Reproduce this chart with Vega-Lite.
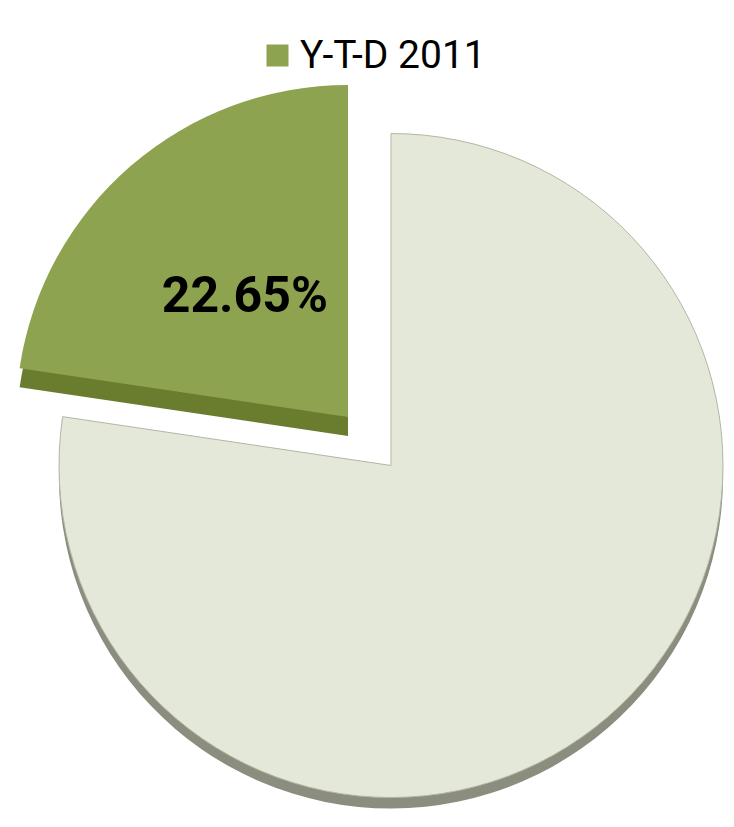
{
  "$schema": "https://vega.github.io/schema/vega-lite/v6.json",
  "width": 734,
  "height": 827,
  "autosize": {"type": "none"},
  "padding": 0,
  "background": "white",
  "config": {"view": {"stroke": null}},
  "data": {
    "values": [
      {"category": "Other", "value": 77.35, "order": 1, "label": ""},
      {"category": "Y-T-D 2011", "value": 22.65, "order": 2, "label": "22.65%"}
    ]
  },
  "transform": [
    {"stack": "value", "groupby": [], "sort": [{"field": "order", "order": "ascending"}], "as": ["v0", "v1"]}
  ],
  "layer": [
    {
      "transform": [{"filter": "datum.category === 'Other'"}],
      "mark": {"type": "arc", "radius": 332, "xOffset": 24, "yOffset": 63, "fill": "#8b8e7e"},
      "encoding": {
        "theta": {"field": "v0", "type": "quantitative", "scale": {"domain": [0, 100]}},
        "theta2": {"field": "v1"}
      }
    },
    {
      "transform": [{"filter": "datum.category === 'Other'"}],
      "mark": {"type": "arc", "radius": 332, "xOffset": 24, "yOffset": 52, "fill": "#e3e8d8", "stroke": "#b3b6a6", "strokeWidth": 1},
      "encoding": {
        "theta": {"field": "v0", "type": "quantitative", "scale": {"domain": [0, 100]}},
        "theta2": {"field": "v1"}
      }
    },
    {
      "transform": [{"filter": "datum.category === 'Y-T-D 2011'"}],
      "mark": {"type": "arc", "radius": 332, "xOffset": -19, "yOffset": 22.5, "fill": "#6a7c2e"},
      "encoding": {
        "theta": {"field": "v0", "type": "quantitative", "scale": {"domain": [0, 100]}},
        "theta2": {"field": "v1"}
      }
    },
    {
      "transform": [{"filter": "datum.category === 'Y-T-D 2011'"}],
      "mark": {"type": "arc", "radius": 332, "xOffset": -19, "yOffset": 3.5},
      "encoding": {
        "theta": {"field": "v0", "type": "quantitative", "scale": {"domain": [0, 100]}},
        "theta2": {"field": "v1"},
        "color": {
          "field": "category",
          "type": "nominal",
          "scale": {"domain": ["Y-T-D 2011"], "range": ["#8ea350"]},
          "legend": {
            "orient": "none",
            "legendX": 258,
            "legendY": 36,
            "title": null,
            "padding": 0,
            "symbolType": "square",
            "symbolSize": 484,
            "symbolStrokeWidth": 0,
            "symbolOpacity": 1,
            "labelFont": "Roboto",
            "labelFontSize": 39,
            "labelColor": "#000000",
            "labelOffset": 3,
            "labelLimit": 400
          }
        }
      }
    },
    {
      "mark": {"type": "text", "radius": 158, "xOffset": -19, "yOffset": 3.5, "font": "Roboto", "fontSize": 50, "fontWeight": "bold", "color": "#000000", "align": "center", "baseline": "middle"},
      "encoding": {
        "theta": {"field": "value", "type": "quantitative", "stack": true},
        "detail": {"field": "category", "type": "nominal"},
        "order": {"field": "order", "type": "quantitative"},
        "text": {"field": "label", "type": "nominal"}
      }
    }
  ]
}
